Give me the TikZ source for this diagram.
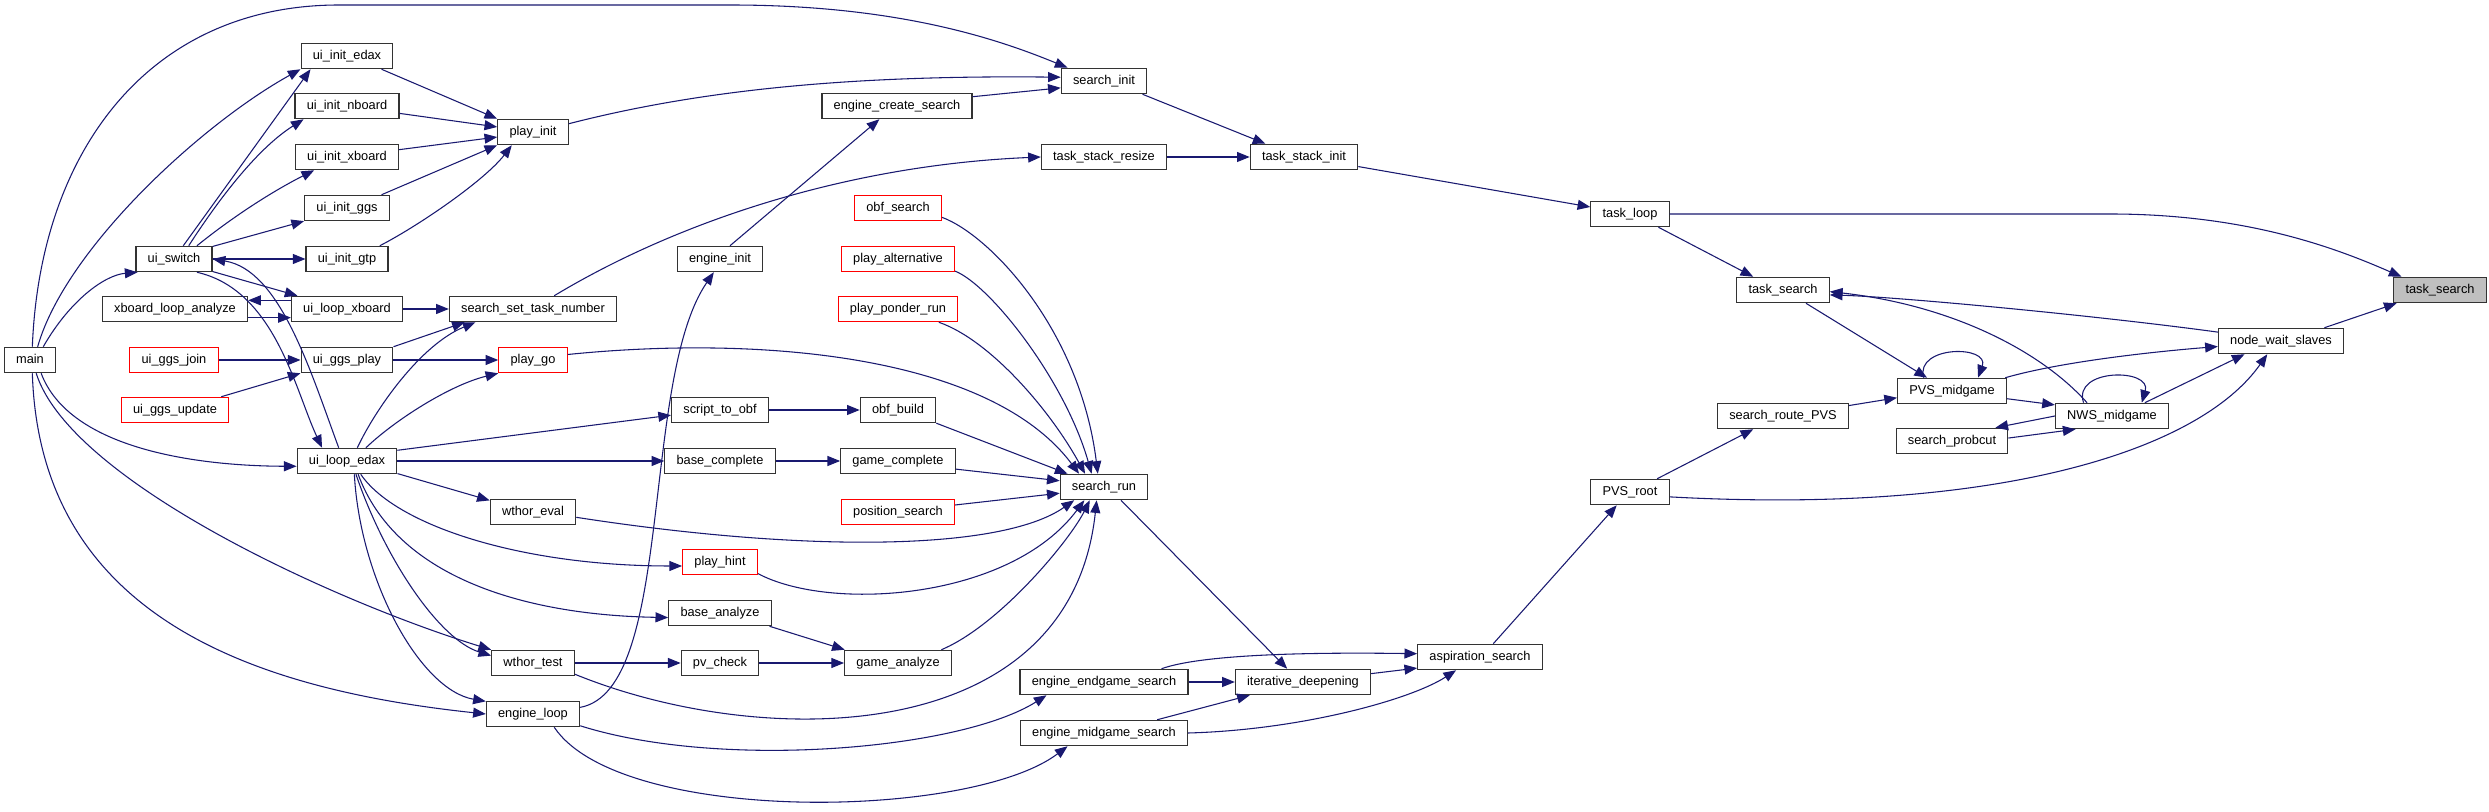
\documentclass[tikz,border=0pt]{standalone}
\usepackage{fontspec}
\setmainfont{Liberation Sans}
\usetikzlibrary{arrows.meta}
\definecolor{edgec}{HTML}{191970}
\definecolor{bordc}{HTML}{333333}
\definecolor{grayfill}{HTML}{BFBFBF}
\begin{document}
\begin{tikzpicture}[x=0.75pt,y=-0.75pt,
  font=\fontsize{9.6}{11}\selectfont,
  fn/.style={draw=bordc,line width=0.9pt,fill=white,inner xsep=8.8pt,inner ysep=0pt,
    minimum height=19pt,text height=7.2pt,text depth=2pt},
  fnred/.style={fn,draw=red},
  fngray/.style={fn,fill=grayfill},
  ed/.style={draw=edgec,line width=0.8pt,-{Triangle[length=9.5pt,width=7.5pt]}}]
\fill[white] (0,0) rectangle (2489,812);
\useasboundingbox (0,0) rectangle (2489,812);

% nodes
\node[fn] (main) at (30,360) {main};
\node[fn] (uiswitch) at (174,259) {ui\_switch};
\node[fn] (xbla) at (175,309) {xboard\_loop\_analyze};
\node[fnred] (ggsjoin) at (174,360) {ui\_ggs\_join};
\node[fnred] (ggsupd) at (175,410) {ui\_ggs\_update};
\node[fn] (initedax) at (347,56) {ui\_init\_edax};
\node[fn] (initnboard) at (347,106) {ui\_init\_nboard};
\node[fn] (initxboard) at (347,157) {ui\_init\_xboard};
\node[fn] (initggs) at (347,208) {ui\_init\_ggs};
\node[fn] (initgtp) at (347,259) {ui\_init\_gtp};
\node[fn] (loopxboard) at (347,309) {ui\_loop\_xboard};
\node[fn] (ggsplay) at (347,360) {ui\_ggs\_play};
\node[fn] (loopedax) at (347,461) {ui\_loop\_edax};
\node[fn] (playinit) at (533,132) {play\_init};
\node[fn] (sstn) at (533,309) {search\_set\_task\_number};
\node[fnred] (playgo) at (533,360) {play\_go};
\node[fn] (wthoreval) at (533,512) {wthor\_eval};
\node[fn] (wthortest) at (533,663) {wthor\_test};
\node[fn] (engineloop) at (533,714) {engine\_loop};
\node[fn] (ecs) at (897,106) {engine\_create\_search};
\node[fn] (engineinit) at (720,259) {engine\_init};
\node[fn] (scripttoobf) at (720,410) {script\_to\_obf};
\node[fn] (basecomplete) at (720,461) {base\_complete};
\node[fnred] (playhint) at (720,562) {play\_hint};
\node[fn] (baseanalyze) at (720,613) {base\_analyze};
\node[fn] (pvcheck) at (720,663) {pv\_check};
\node[fnred] (obfsearch) at (898,208) {obf\_search};
\node[fnred] (playalt) at (898,259) {play\_alternative};
\node[fnred] (ponder) at (898,309) {play\_ponder\_run};
\node[fn] (obfbuild) at (898,410) {obf\_build};
\node[fn] (gamecomplete) at (898,461) {game\_complete};
\node[fnred] (possearch) at (898,512) {position\_search};
\node[fn] (gameanalyze) at (898,663) {game\_analyze};
\node[fn] (searchinit) at (1104,81) {search\_init};
\node[fn] (tsresize) at (1104,157) {task\_stack\_resize};
\node[fn] (searchrun) at (1104,487) {search\_run};
\node[fn] (endgame) at (1104,682) {engine\_endgame\_search};
\node[fn] (midgame) at (1104,733) {engine\_midgame\_search};
\node[fn] (tsinit) at (1304,157) {task\_stack\_init};
\node[fn] (iterdeep) at (1303,682) {iterative\_deepening};
\node[fn] (aspiration) at (1480,657) {aspiration\_search};
\node[fn] (taskloop) at (1630,214) {task\_loop};
\node[fn] (pvsroot) at (1630,492) {PVS\_root};
\node[fn] (tasksearch) at (1783,290) {task\_search};
\node[fn] (routepvs) at (1783,416) {search\_route\_PVS};
\node[fn] (pvsmid) at (1952,391) {PVS\_midgame};
\node[fn] (probcut) at (1952,441) {search\_probcut};
\node[fn] (nwsmid) at (2112,416) {NWS\_midgame};
\node[fn] (nws) at (2281,341) {node\_wait\_slaves};
\node[fngray] (target) at (2440,290) {task\_search};

% main
\draw[ed] (main.80) .. controls (40,150) and (150,5) .. (339,5) -- (730,5) .. controls (900,5) and (1000,40) .. (searchinit.160);
\draw[ed] (main.60) .. controls (65,250) and (200,125) .. (initedax.south west);
\draw[ed] (main.45) .. controls (70,300) and (105,275) .. (uiswitch.200);
\draw[ed] (main.-50) .. controls (70,450) and (200,466) .. (loopedax.186);
\draw[ed] (main.-65) .. controls (70,480) and (330,600) .. (wthortest.north west);
\draw[ed] (main.-80) .. controls (40,620) and (260,690) .. (engineloop.west);

% ui_switch
\draw[ed] (uiswitch.55) -- (initedax.-160);
\draw[ed] (uiswitch.42) .. controls (215,205) and (255,150) .. (initnboard.-163);
\draw[ed] (uiswitch.30) .. controls (235,215) and (275,190) .. (initxboard.-158);
\draw[ed] (uiswitch.18) -- (initggs.-163);
\draw[ed] (uiswitch.east) -- (initgtp.west);
\draw[ed] (uiswitch.-18) -- (loopxboard.165);
\draw[ed] (uiswitch.-30) .. controls (275,290) and (295,390) .. (loopedax.152);
\draw[ed] (loopedax.122) .. controls (310,370) and (280,270) .. (uiswitch.east);

% ui_loop_xboard etc
\draw[ed] ([yshift=6.5pt]loopxboard.west) -- ([yshift=6.5pt]xbla.east);
\draw[ed] ([yshift=-6.5pt]xbla.east) -- ([yshift=-6.5pt]loopxboard.west);
\draw[ed] (loopxboard.east) -- (sstn.west);
\draw[ed] (ggsjoin.east) -- (ggsplay.west);
\draw[ed] (ggsupd.16) -- (ggsplay.south west);
\draw[ed] (ggsplay.north east) -- (sstn.191);
\draw[ed] (ggsplay.east) -- (playgo.west);

% ui_loop_edax
\draw[ed] (loopedax.52) .. controls (375,410) and (420,345) .. (sstn.193);
\draw[ed] (loopedax.35) .. controls (395,420) and (450,385) .. (playgo.south west);
\draw[ed] (loopedax.12) -- (scripttoobf.186);
\draw[ed] (loopedax.east) -- (basecomplete.west);
\draw[ed] (loopedax.-14) -- (wthoreval.165);
\draw[ed] (loopedax.-44) .. controls (395,525) and (520,566) .. (playhint.186);
\draw[ed] (loopedax.-50) .. controls (395,575) and (520,615) .. (baseanalyze.185);
\draw[ed] (loopedax.-56) .. controls (385,560) and (440,640) .. (wthortest.170);
\draw[ed] (loopedax.-61) .. controls (360,580) and (420,690) .. (engineloop.165);

% ui_init -> play_init
\draw[ed] (initedax.-21) -- (playinit.north west);
\draw[ed] (initnboard.-8) -- (playinit.172);
\draw[ed] (initxboard.8) -- (playinit.188);
\draw[ed] (initggs.21) -- (playinit.south west);
\draw[ed] (initgtp.22) .. controls (420,225) and (485,180) .. (playinit.-148);

% init chain
\draw[ed] (playinit.13) .. controls (700,90) and (850,75) .. (searchinit.175);
\draw[ed] (ecs.7) -- (searchinit.189);
\draw[ed] (engineinit.53) -- (ecs.-143);
\draw[ed] (engineloop.8) .. controls (675,690) and (640,380) .. (engineinit.-115);
\draw[ed] (sstn.32) .. controls (680,220) and (850,165) .. (tsresize.west);
\draw[ed] (tsresize.east) -- (tsinit.west);
\draw[ed] (searchinit.-19) -- (tsinit.161);
\draw[ed] (tsinit.-10) -- (taskloop.170);
\draw[ed] (taskloop.east) -- (2110,214) .. controls (2250,214) and (2340,250) .. (target.161);
\draw[ed] (taskloop.-25) -- (tasksearch.156);

% right cluster
\draw[ed] (nws.172) .. controls (2100,316) and (1900,297) .. (tasksearch.-6);
\draw[ed] (nwsmid.152) .. controls (2040,350) and (1950,305) .. (tasksearch.-2);
\draw[ed] (tasksearch.-30) -- (pvsmid.152);
\draw[ed] (pvsmid.155) .. controls (1915,345) and (1990,345) .. (pvsmid.27);
\draw[ed] (nwsmid.155) .. controls (2072,368) and (2152,368) .. (nwsmid.24);
\draw[ed] (pvsmid.14) .. controls (2060,362) and (2150,352) .. (nws.185);
\draw[ed] (pvsmid.-8) -- (nwsmid.169);
\draw[ed] (nwsmid.west) -- (probcut.17);
\draw[ed] (probcut.3) -- (nwsmid.-160);
\draw[ed] (nwsmid.22) -- (nws.-160);
\draw[ed] (nws.17) -- (target.-163);
\draw[ed] (pvsroot.-7) .. controls (2000,515) and (2200,450) .. (nws.-136);
\draw[ed] (routepvs.9) -- (pvsmid.187);
\draw[ed] (pvsroot.26) -- (routepvs.-156);
\draw[ed] (aspiration.45) -- (pvsroot.-135);
\draw[ed] (iterdeep.7) -- (aspiration.190);
\draw[ed] (endgame.13) .. controls (1200,655) and (1300,652) .. (aspiration.177);
\draw[ed] (midgame.east) .. controls (1300,730) and (1410,700) .. (aspiration.-151);
\draw[ed] (endgame.east) -- (iterdeep.west);
\draw[ed] (midgame.14) -- (iterdeep.-166);
\draw[ed] (searchrun.-38) -- (iterdeep.140);
\draw[ed] (engineloop.-14) .. controls (720,770) and (960,750) .. (endgame.-167);
\draw[ed] (engineloop.-32) .. controls (620,825) and (970,820) .. (midgame.-160);

% search_run callers
\draw[ed] (wthortest.-15) .. controls (760,750) and (1070,750) .. (searchrun.-119);
\draw[ed] (wthortest.east) -- (pvcheck.west);
\draw[ed] (pvcheck.east) -- (gameanalyze.west);
\draw[ed] (baseanalyze.-15) -- (gameanalyze.166);
\draw[ed] (gameanalyze.17) .. controls (1000,625) and (1070,540) .. (searchrun.-137);
\draw[ed] (playhint.-17) .. controls (830,612) and (1010,600) .. (searchrun.-146);
\draw[ed] (wthoreval.-7) .. controls (800,552) and (1000,552) .. (searchrun.-156);
\draw[ed] (possearch.7) -- (searchrun.188);
\draw[ed] (gamecomplete.-8) -- (searchrun.172);
\draw[ed] (obfbuild.-19) -- (searchrun.160);
\draw[ed] (scripttoobf.east) -- (obfbuild.west);
\draw[ed] (basecomplete.east) -- (gamecomplete.west);
\draw[ed] (obfsearch.-12) .. controls (990,235) and (1080,330) .. (searchrun.115);
\draw[ed] (playalt.-12) .. controls (990,285) and (1065,380) .. (searchrun.133);
\draw[ed] (ponder.-18) .. controls (990,340) and (1050,410) .. (searchrun.145);
\draw[ed] (playgo.9) .. controls (760,335) and (990,355) .. (searchrun.152);
\end{tikzpicture}
\end{document}
